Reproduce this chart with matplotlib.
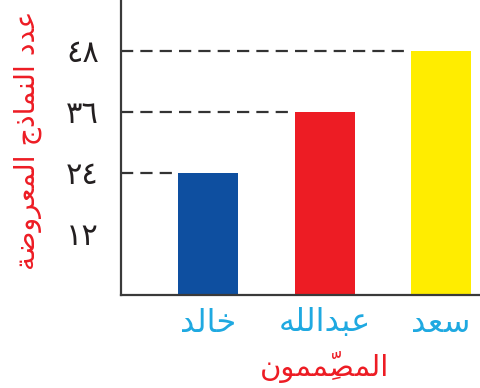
import matplotlib

matplotlib.use("Agg")
import matplotlib.pyplot as plt

# data
designers = ["خالد", "عبدالله", "سعد"]
models_shown = [24, 36, 48]
bar_colors = ["#0E4FA0", "#ED1C24", "#FFED00"]
y_ticks = [12, 24, 36, 48]
y_tick_labels = ["١٢", "٢٤", "٣٦", "٤٨"]
x_title = "المصمِّمون"
y_title = "عدد النماذج المعروضة"

RED = "#ED1C24"
CYAN = "#1FA9E1"

# matplotlib has no Arabic shaping, so pick presentation forms by hand:
# (isolated, final, initial, medial); right-joining letters have only two
FORMS = {
    "ا": ("\uFE8D", "\uFE8E"),
    "ب": ("\uFE8F", "\uFE90", "\uFE91", "\uFE92"),
    "ة": ("\uFE93", "\uFE94"),
    "ج": ("\uFE9D", "\uFE9E", "\uFE9F", "\uFEA0"),
    "خ": ("\uFEA5", "\uFEA6", "\uFEA7", "\uFEA8"),
    "د": ("\uFEA9", "\uFEAA"),
    "ذ": ("\uFEAB", "\uFEAC"),
    "ر": ("\uFEAD", "\uFEAE"),
    "س": ("\uFEB1", "\uFEB2", "\uFEB3", "\uFEB4"),
    "ص": ("\uFEB9", "\uFEBA", "\uFEBB", "\uFEBC"),
    "ض": ("\uFEBD", "\uFEBE", "\uFEBF", "\uFEC0"),
    "ع": ("\uFEC9", "\uFECA", "\uFECB", "\uFECC"),
    "ل": ("\uFEDD", "\uFEDE", "\uFEDF", "\uFEE0"),
    "م": ("\uFEE1", "\uFEE2", "\uFEE3", "\uFEE4"),
    "ن": ("\uFEE5", "\uFEE6", "\uFEE7", "\uFEE8"),
    "ه": ("\uFEE9", "\uFEEA", "\uFEEB", "\uFEEC"),
    "و": ("\uFEED", "\uFEEE"),
}


def is_mark(c):
    return "\u064B" <= c <= "\u0652"


def shape(text):
    chars = list(text)
    letters = [i for i, c in enumerate(chars) if not is_mark(c)]
    out = list(chars)
    for k, i in enumerate(letters):
        c = chars[i]
        if c not in FORMS:
            continue
        prev = chars[letters[k - 1]] if k > 0 else None
        nxt = chars[letters[k + 1]] if k + 1 < len(letters) else None
        join_prev = prev in FORMS and len(FORMS[prev]) == 4
        join_next = len(FORMS[c]) == 4 and nxt in FORMS
        f = FORMS[c]
        if join_prev and join_next:
            out[i] = f[3]
        elif join_prev:
            out[i] = f[1]
        elif join_next:
            out[i] = f[2]
        else:
            out[i] = f[0]
    # reverse by clusters so marks stay after their base letter
    clusters = []
    for c in out:
        if is_mark(c) and clusters:
            clusters[-1] += c
        else:
            clusters.append(c)
    return "".join(reversed(clusters))


fig = plt.figure(figsize=(4.81, 3.88), dpi=100)
ax = fig.add_axes([121 / 481, 93 / 388, 360 / 481, 295 / 388])

x = list(range(len(designers)))
width = 0.515
ax.bar(x, models_shown, width=width, color=bar_colors, zorder=2)

for xi, v in zip(x, models_shown):
    ax.plot([-0.75, xi - width / 2], [v, v], color="#333333", lw=1.6,
            dashes=(5.5, 3.2), zorder=1)

ax.set_xlim(-0.747, 2.343)
ax.set_ylim(0, 58)

for side in ("top", "right"):
    ax.spines[side].set_visible(False)
for side in ("left", "bottom"):
    ax.spines[side].set_color("#3a3a3a")
    ax.spines[side].set_linewidth(1.6)

ax.set_yticks(y_ticks)
ax.set_yticklabels(y_tick_labels, fontsize=22, color="#231F20")
ax.set_xticks(x)
ax.set_xticklabels([shape(d) for d in designers], fontsize=23, color=CYAN)
ax.tick_params(axis="y", length=0, pad=16)
ax.tick_params(axis="x", length=0, pad=9)

ax.set_xlabel(shape(x_title), fontsize=21, color=RED)
ax.xaxis.set_label_coords((1 + 0.747) / 3.09, -0.19)
ax.set_ylabel(shape(y_title), fontsize=20.5, color=RED, labelpad=0)
ax.yaxis.set_label_coords(-0.22, 0.525)

fig.savefig("out.png", dpi=100)
plt.close(fig)
